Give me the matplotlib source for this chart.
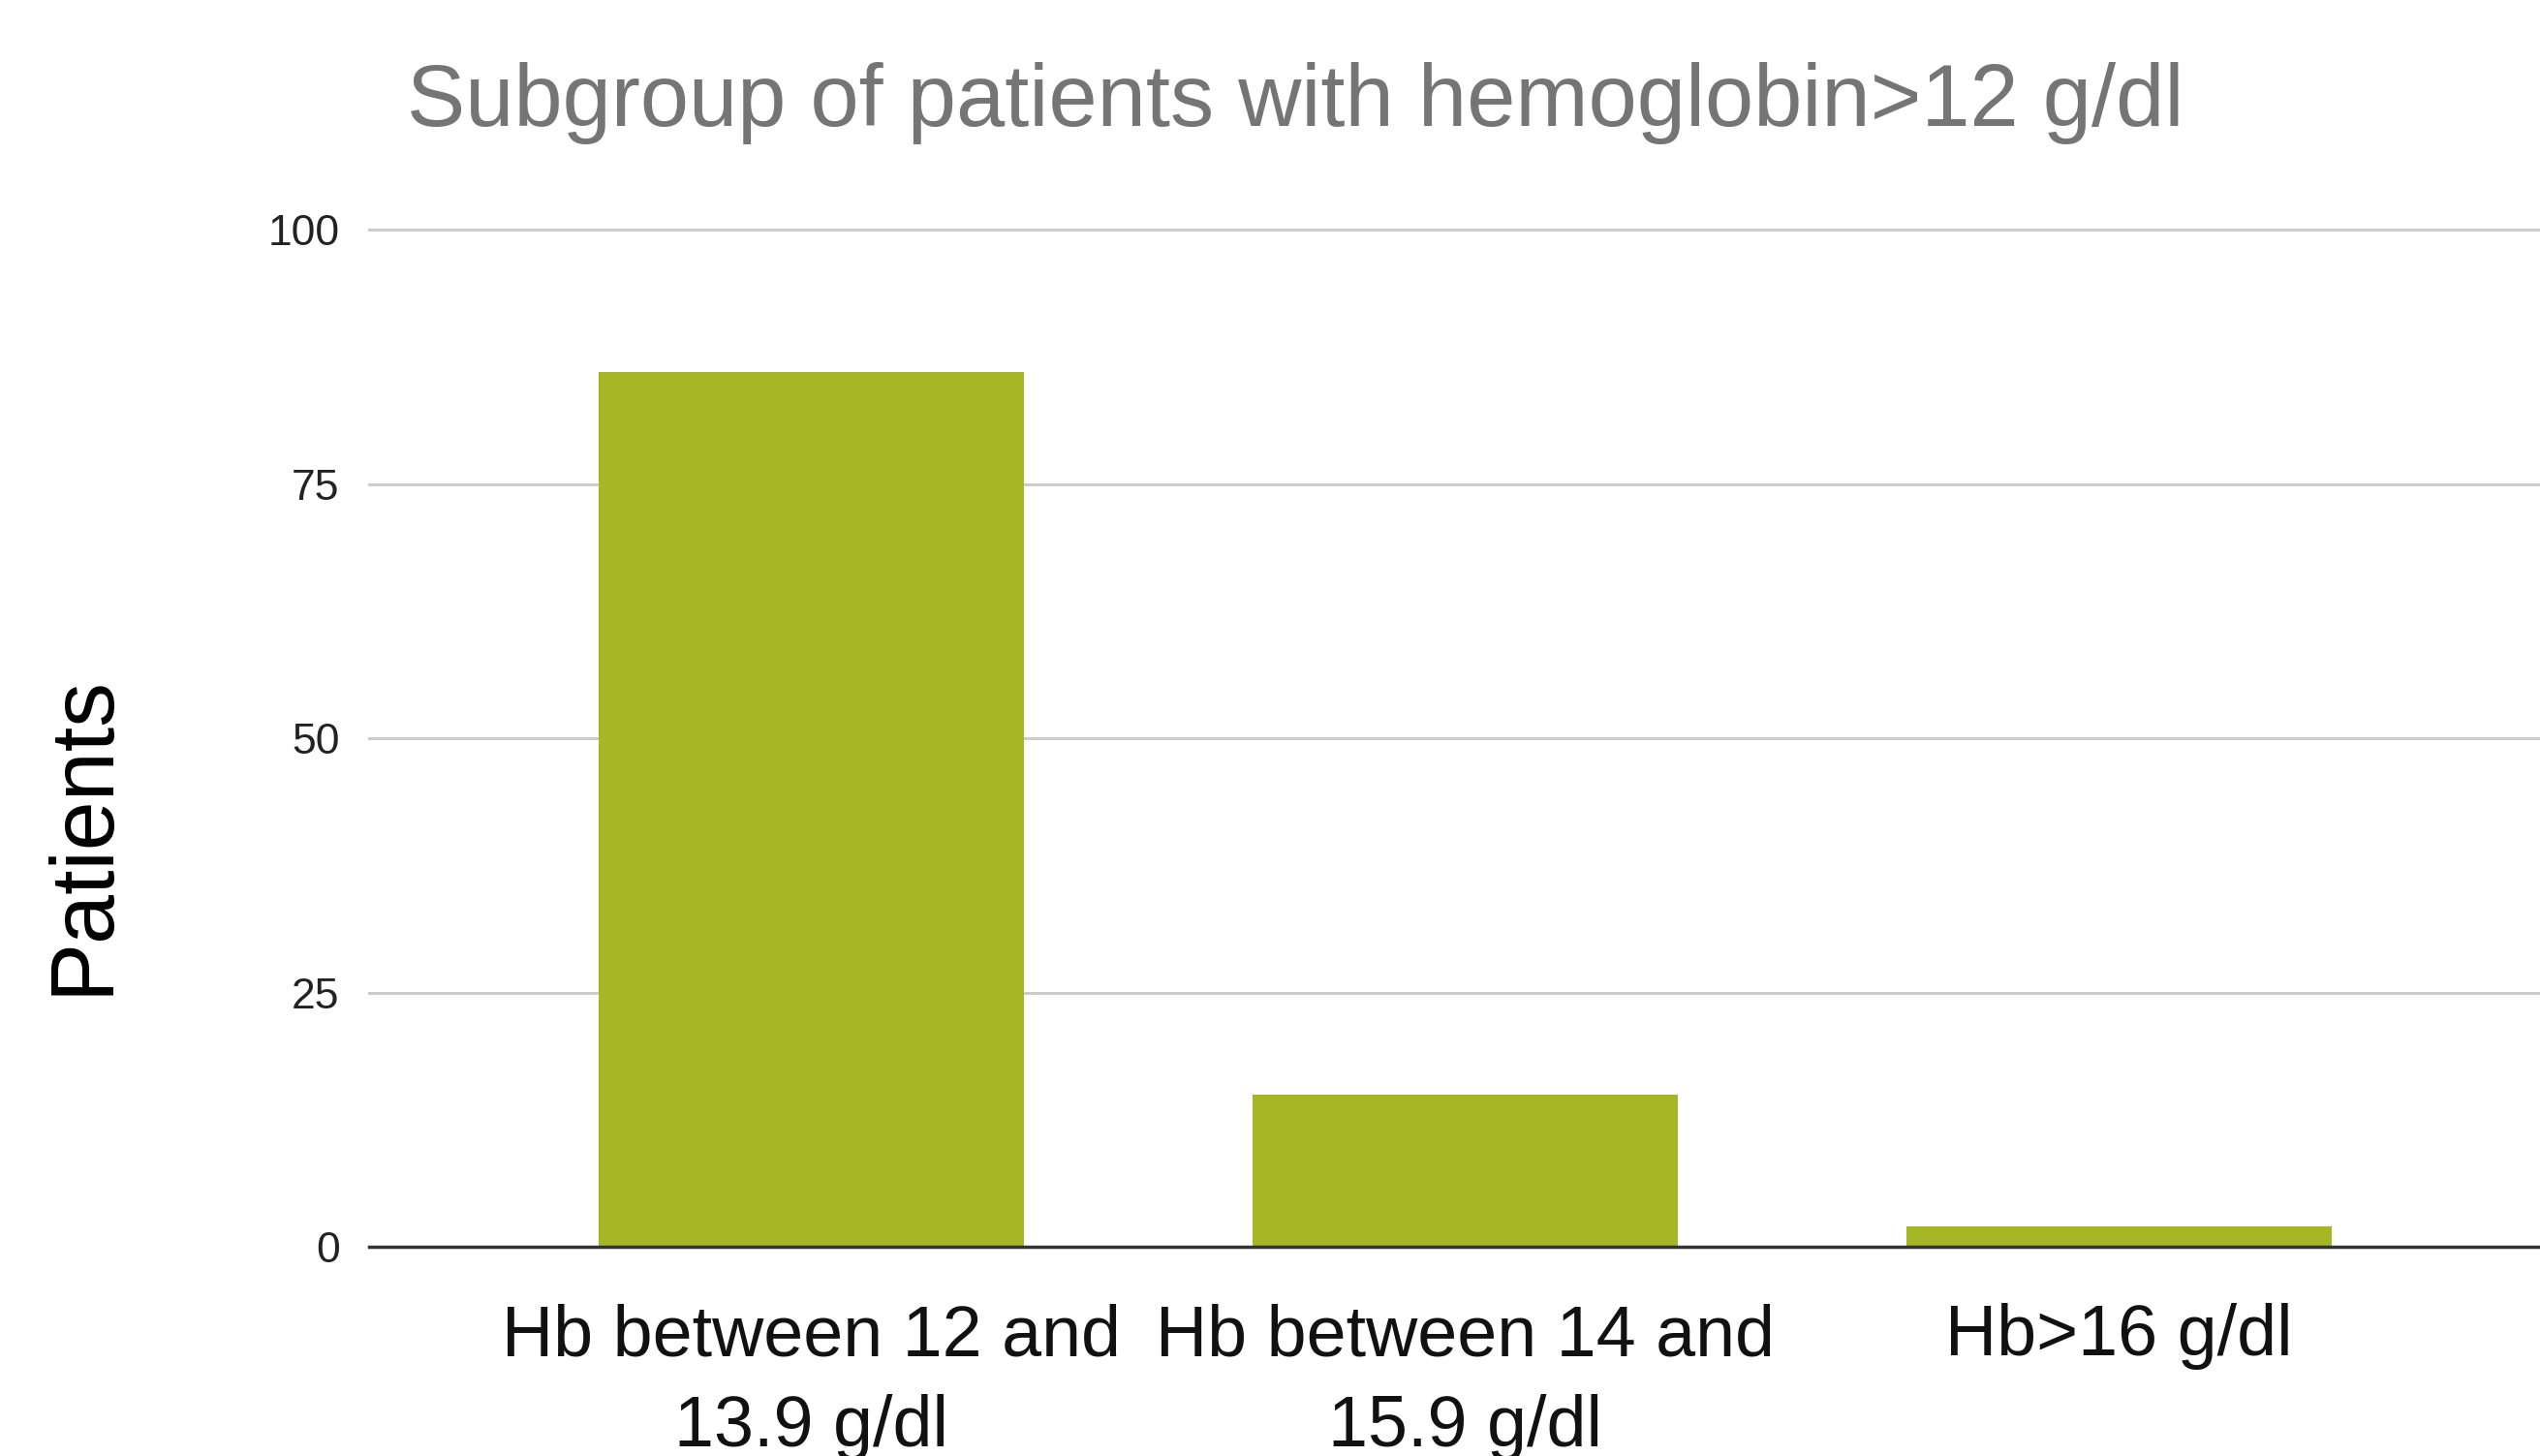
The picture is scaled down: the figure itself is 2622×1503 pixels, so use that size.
import matplotlib
matplotlib.use("Agg")
import matplotlib.pyplot as plt

plt.rcParams["font.family"] = ["Liberation Sans", "DejaVu Sans"]

# data
categories = ["Hb between 12 and\n13.9 g/dl", "Hb between 14 and\n15.9 g/dl", "Hb>16 g/dl"]
patients = [86, 15, 2]
yticks = [0, 25, 50, 75, 100]

bar_color = "#A5B725"
grid_color = "#CCCCCC"

fig = plt.figure(figsize=(26.22, 15.03), dpi=100)
ax = fig.add_axes([0.1454, 0.1437, 0.8546, 0.6986])

x = list(range(len(categories)))
ax.bar(x, patients, width=0.65, color=bar_color, zorder=3)

ax.set_xlim(-0.676, 2.644)
ax.set_ylim(0, 100)
ax.set_yticks(yticks)
ax.set_yticklabels([str(v) for v in yticks], fontsize=32, color="#222222")
ax.set_xticks(x)
ax.set_xticklabels(categories, fontsize=53, color="#111111", linespacing=1.45)
ax.tick_params(axis="y", length=0, pad=22)
ax.tick_params(axis="x", length=0, pad=42)

for v in yticks[1:]:
    ax.axhline(v, color=grid_color, lw=2.2, zorder=1, clip_on=False)
ax.axhline(0, color="#333333", lw=2.5, zorder=4, clip_on=False)

for s in ax.spines.values():
    s.set_visible(False)

fig.text(0.510, 0.929, "Subgroup of patients with hemoglobin>12 g/dl",
         ha="center", va="center", fontsize=65, color="#757575")
fig.text(0.033, 0.427, "Patients", rotation=90, ha="center", va="center",
         fontsize=66, color="#000000")

fig.savefig("out.png", dpi=100)
